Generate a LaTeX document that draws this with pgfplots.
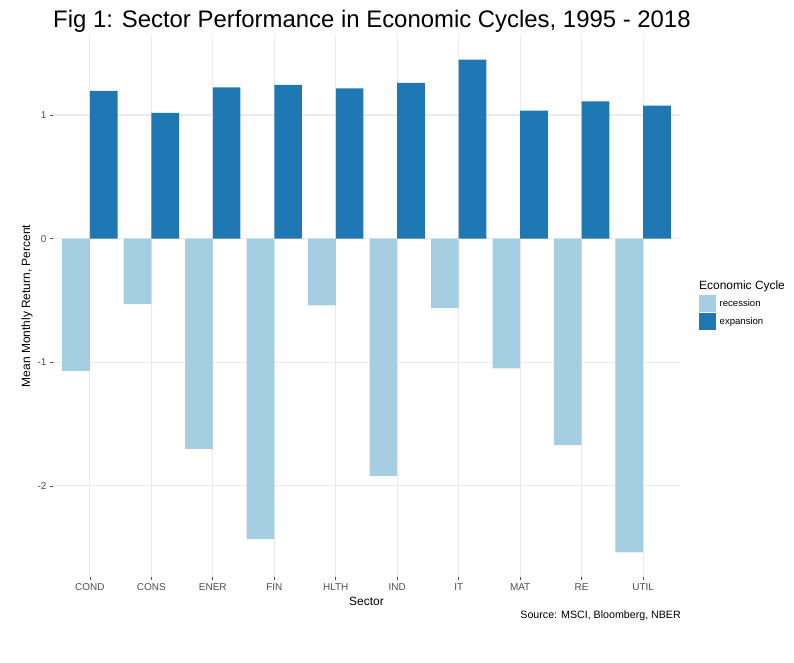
\documentclass[border=0pt]{standalone}
\usepackage{fontspec}
\setmainfont{Liberation Sans}
\usepackage{pgfplots}
\pgfplotsset{compat=1.18}
\definecolor{recc}{HTML}{A6CEE3}
\definecolor{expc}{HTML}{1F78B4}
\definecolor{tickgrey}{HTML}{4D4D4D}
\definecolor{gridgrey}{HTML}{EBEBEB}
\begin{document}
\begin{tikzpicture}[x=1bp,y=1bp]
\path (0,0) rectangle (794,663);
\node[anchor=base west, inner sep=0, font=\fontsize{24}{28}\selectfont] at (53,635) {Fig 1: Sector Performance in Economic Cycles, 1995 - 2018};
\node[anchor=base east, inner sep=0, font=\fontsize{10.7}{13}\selectfont] at (681,44) {Source: MSCI, Bloomberg, NBER};
\node[anchor=base west, inner sep=0, font=\fontsize{12}{14}\selectfont] at (699,373) {Economic Cycle};
\begin{axis}[
  at={(53bp,86bp)}, anchor=south west, scale only axis,
  width=627bp, height=542bp,
  xmin=-0.6, xmax=9.6, ymin=-2.737, ymax=1.647,
  xtick={0,1,2,3,4,5,6,7,8,9},
  xticklabels={COND,CONS,ENER,FIN,HLTH,IND,IT,MAT,RE,UTIL},
  ytick={-2,-1,0,1}, yticklabels={-2,-1,0,1},
  grid=major, grid style={gridgrey, line width=1.1bp},
  axis line style={draw=none},
  tick align=outside, major tick length=3bp,
  tick style={tickgrey, line width=0.7bp},
  xtick pos=bottom, ytick pos=left,
  ticklabel style={font=\fontsize{10}{12}\selectfont, text=tickgrey},
  xlabel={Sector}, ylabel={Mean Monthly Return, Percent},
  label style={font=\fontsize{12}{14}\selectfont},
  xlabel style={at={(axis description cs:0.5,-0.0517)}, anchor=base},
  ylabel style={at={(axis description cs:-0.0415,0.5)}, anchor=center},
  bar width=0.45,
  legend style={at={(axis description cs:1.0303,0.5203)}, anchor=north west,
    draw=none, fill=none, inner sep=0pt, row sep=1bp,
    font=\fontsize{9.6}{11}\selectfont,
    nodes={inner sep=1.5bp, anchor=west}},
  legend image code/.code={\fill[#1] (0bp,-8.5bp) rectangle (17bp,8.5bp);
    \path (17bp,0bp) -- (19bp,0bp);},
  legend cell align=left,
]
\addplot[ybar, bar shift=-0.225, fill=recc, draw=none] coordinates {
  (0,-1.07) (1,-0.53) (2,-1.70) (3,-2.43) (4,-0.54)
  (5,-1.92) (6,-0.56) (7,-1.05) (8,-1.67) (9,-2.538)};
\addlegendentry{recession}
\addplot[ybar, bar shift=0.225, fill=expc, draw=none] coordinates {
  (0,1.194) (1,1.016) (2,1.224) (3,1.243) (4,1.216)
  (5,1.259) (6,1.448) (7,1.036) (8,1.111) (9,1.076)};
\addlegendentry{expansion}
\end{axis}
\end{tikzpicture}
\end{document}
